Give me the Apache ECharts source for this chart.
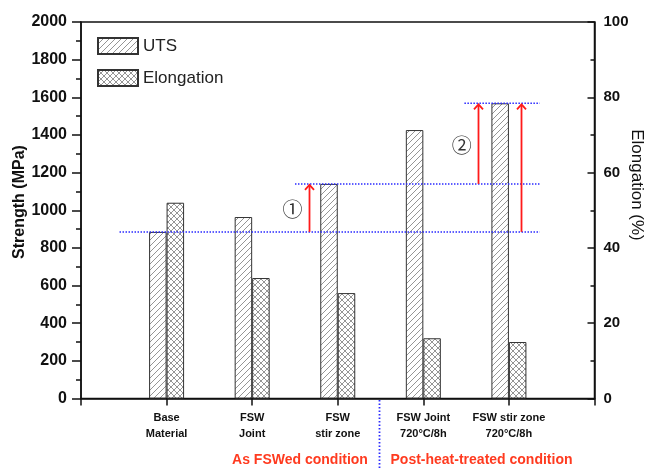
<!DOCTYPE html>
<html><head><meta charset="utf-8">
<script src="https://cdn.jsdelivr.net/npm/echarts@6/dist/echarts.min.js"></script>
<style>html,body{margin:0;padding:0;background:#fff}#c{width:649px;height:468px}</style>
</head><body><div id="c"></div>
<script>
// ---- data ----
const categories = ['Base\nMaterial', 'FSW\nJoint', 'FSW\nstir zone', 'FSW Joint\n720°C/8h', 'FSW stir zone\n720°C/8h'];
const categoryPositions = [1, 2, 3, 4, 5];
const utsValues = [885, 964, 1140, 1426, 1568];
const elongationValues = [52, 32, 28, 16, 15];
const seriesNames = ['UTS', 'Elongation'];
const strengthRange = [0, 2000, 200];
const elongationRange = [0, 100, 20];
const conditionLabels = ['As FSWed condition', 'Post-heat-treated condition'];
const axisNames = ['Strength (MPa)', 'Elongation (%)'];
// reference levels (dotted lines) and increments (arrows) taken from the UTS values
const refLines = [[0.45, 5.36, utsValues[0]], [2.5, 5.36, utsValues[2]], [4.48, 5.36, utsValues[4]]];
const arrows = [[2.66, utsValues[0], utsValues[2]], [4.64, utsValues[2], utsValues[4]], [5.14, utsValues[0], utsValues[4]]];
const marks = [[2.47, 1005, '①'], [4.45, 1347, '②']];

const FONT = 'Liberation Sans, Arial, sans-serif';

function hatch(cross) {
  const s = 6, c = document.createElement('canvas');
  c.width = c.height = s;
  const g = c.getContext('2d');
  g.fillStyle = '#fff'; g.fillRect(0, 0, s, s);
  g.strokeStyle = '#7a7a7a'; g.lineWidth = 0.8;
  const seg = (x1, y1, x2, y2) => { g.beginPath(); g.moveTo(x1, y1); g.lineTo(x2, y2); g.stroke(); };
  seg(-1, s + 1, s + 1, -1); seg(-1, 1, 1, -1); seg(s - 1, s + 1, s + 1, s - 1);
  if (cross) { seg(-1, -1, s + 1, s + 1); seg(s - 1, -1, s + 1, 1); seg(-1, s - 1, 1, s + 1); }
  return { image: c, repeat: 'repeat' };
}

const plain = v => String(v);
const chart = echarts.init(document.getElementById('c'), null, { renderer: 'canvas' });
const option = {
  animation: false,
  textStyle: { fontFamily: FONT },
  grid: { left: 81, right: 54.5, top: 22, bottom: 69.5, show: true, borderColor: '#111', borderWidth: 1.5, backgroundColor: 'transparent' },
  legend: {
    data: seriesNames, orient: 'vertical', left: 97, top: 37, padding: 0, itemWidth: 40, itemHeight: 16, itemGap: 14,
    icon: 'rect', textStyle: { fontSize: 17, color: '#222', fontFamily: FONT }
  },
  xAxis: {
    type: 'value', min: 0, max: 6, interval: 1,
    axisLine: { lineStyle: { color: '#111', width: 1.5 } },
    axisTick: { length: 7, lineStyle: { color: '#111', width: 1.5 } },
    splitLine: { show: false },
    axisLabel: {
      formatter: v => categories[categoryPositions.indexOf(v)] || '',
      fontWeight: 'bold', fontSize: 11, lineHeight: 16, margin: 11, color: '#111', fontFamily: FONT
    }
  },
  yAxis: [
    {
      type: 'value', position: 'left', min: strengthRange[0], max: strengthRange[1], interval: strengthRange[2],
      axisLine: { show: true, lineStyle: { color: '#111', width: 1.5 } },
      axisTick: { show: true, length: 9, lineStyle: { color: '#111', width: 1.5 } },
      minorTick: { show: true, splitNumber: 2, length: 5, lineStyle: { color: '#111', width: 1.5 } },
      splitLine: { show: false },
      axisLabel: { formatter: plain, fontWeight: 'bold', fontSize: 16, color: '#111', margin: 14, fontFamily: FONT }
    },
    {
      type: 'value', position: 'right', min: elongationRange[0], max: elongationRange[1], interval: elongationRange[2],
      axisLine: { show: true, lineStyle: { color: '#111', width: 1.5 } },
      axisTick: { show: true, inside: true, length: 7, lineStyle: { color: '#111', width: 1.5 } },
      splitLine: { show: false },
      axisLabel: { formatter: plain, fontWeight: 'bold', fontSize: 15, color: '#111', margin: 9, fontFamily: FONT }
    },
    {
      // minor ticks of the elongation axis (pointing inward)
      type: 'value', position: 'right', min: elongationRange[0], max: elongationRange[1], interval: elongationRange[2] / 2,
      axisLine: { show: false },
      axisTick: { show: true, inside: true, length: 4, lineStyle: { color: '#111', width: 1.5 } },
      splitLine: { show: false },
      axisLabel: { show: false }
    }
  ],
  series: [
    {
      name: seriesNames[0], type: 'bar', yAxisIndex: 0, barWidth: 17.5, barGap: '0%',
      data: utsValues.map((v, i) => [categoryPositions[i], v]),
      itemStyle: { color: hatch(false), borderColor: '#333', borderWidth: 1 }
    },
    {
      name: seriesNames[1], type: 'bar', yAxisIndex: 1, barWidth: 17.5, barGap: '0%',
      data: elongationValues.map((v, i) => [categoryPositions[i], v]),
      itemStyle: { color: hatch(true), borderColor: '#333', borderWidth: 1 }
    },
    {
      type: 'custom', yAxisIndex: 0, silent: true, z: 5, data: refLines,
      renderItem: (p, api) => {
        const a = api.coord([api.value(0), api.value(2)]), b = api.coord([api.value(1), api.value(2)]);
        return { type: 'line', shape: { x1: a[0], y1: a[1], x2: b[0], y2: b[1] },
          style: { stroke: '#2a2aff', lineWidth: 1.5, lineDash: [1.5, 1.5] } };
      }
    },
    {
      type: 'custom', yAxisIndex: 0, silent: true, z: 6, data: arrows,
      renderItem: (p, api) => {
        const a = api.coord([api.value(0), api.value(1)]), b = api.coord([api.value(0), api.value(2)]);
        const x = Math.round(a[0]) + 0.5;
        return { type: 'group', children: [
          { type: 'line', shape: { x1: x, y1: a[1], x2: x, y2: b[1] + 2 }, style: { stroke: '#ff1a1a', lineWidth: 1.8 } },
          { type: 'polyline', shape: { points: [[x - 4.5, b[1] + 6], [x, b[1] + 1], [x + 4.5, b[1] + 6]] }, style: { stroke: '#ff1a1a', lineWidth: 1.8, fill: null } }
        ] };
      }
    },
    {
      type: 'custom', yAxisIndex: 0, silent: true, z: 6, data: marks,
      dimensions: ['x', 'y', { name: 't', type: 'ordinal' }],
      renderItem: (p, api) => {
        const c = api.coord([api.value(0), api.value(1)]);
        return { type: 'text', x: c[0], y: c[1], style: { text: marks[p.dataIndex][2], align: 'center', verticalAlign: 'middle',
          font: '20px "Noto Sans CJK JP", "DejaVu Sans", sans-serif', fill: '#333' } };
      }
    }
  ],
  graphic: [
    { type: 'line', shape: { x1: 379.5, y1: 400, x2: 379.5, y2: 468 }, style: { stroke: '#2a2aff', lineWidth: 1.8, lineDash: [1.5, 2] } },
    { type: 'text', x: 300, y: 460, style: { text: conditionLabels[0], align: 'center', verticalAlign: 'middle', font: 'bold 14px ' + FONT, fill: '#ff3a1f' } },
    { type: 'text', x: 481.5, y: 460, style: { text: conditionLabels[1], align: 'center', verticalAlign: 'middle', font: 'bold 14px ' + FONT, fill: '#ff3a1f' } },
    { type: 'text', x: 20, y: 202, rotation: Math.PI / 2, style: { text: axisNames[0], align: 'center', verticalAlign: 'middle', font: 'bold 16px ' + FONT, fill: '#111' } },
    { type: 'text', x: 637, y: 185, rotation: -Math.PI / 2, style: { text: axisNames[1], align: 'center', verticalAlign: 'middle', font: '17px ' + FONT, fill: '#111' } }
  ]
};
chart.setOption(option);
</script>
</body></html>
